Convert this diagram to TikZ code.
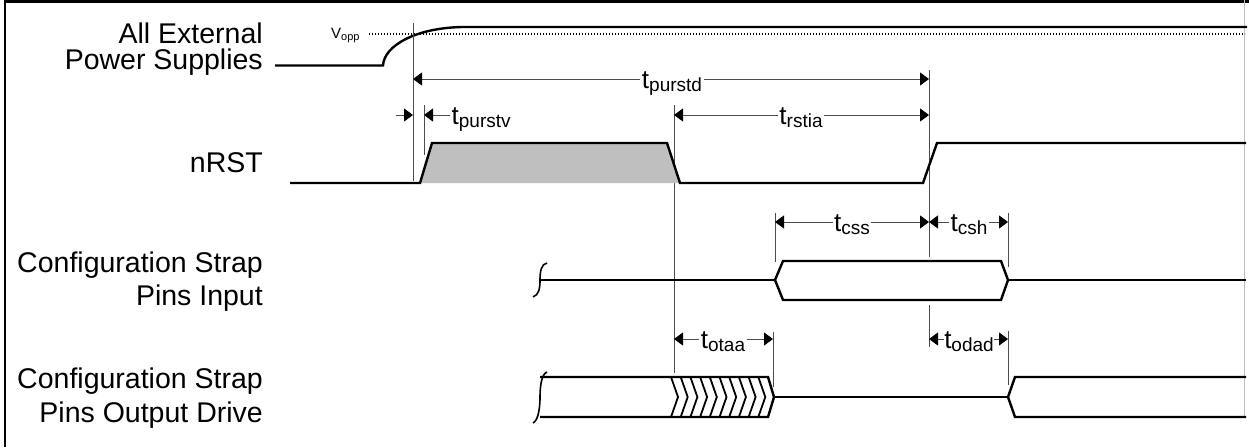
\documentclass[tikz,border=0pt]{standalone}
\usepackage{fontspec}
\setmainfont{Liberation Sans}
\usetikzlibrary{arrows.meta}
\newcommand\tsub[1]{t\raisebox{-3pt}{\fontsize{19}{19}\selectfont #1}}
\begin{document}
\begin{tikzpicture}[x=1pt,y=-1pt,
  sig/.style={line width=2.4pt, line join=miter},
  thin sig/.style={line width=1.6pt},
  refl/.style={line width=0.9pt, draw=black!70},
  tip/.tip={Triangle[length=9pt,width=13pt,color=black]},
  dimboth/.style={line width=0.9pt, draw=black!70, tip-tip},
  dimone/.style={line width=0.9pt, draw=black!70, -tip},
  tlab/.style={fill=white, inner sep=1.5pt, anchor=base, font=\fontsize{26}{26}\selectfont},
  rowlab/.style={anchor=base east, inner sep=0pt, font=\fontsize{28.5}{30}\selectfont}]
\useasboundingbox (0,0) rectangle (1249,447);
% frame
\draw[line width=3pt] (5,1.5) -- (1249,1.5);
\draw[line width=2.5pt] (5,0) -- (5,447);
\draw[line width=0.8pt, black!25] (1244,0) -- (1244,418);

% row labels
\node[rowlab] (l1a) at (263,43) {All External};
\node[rowlab] (l1b) at (263,69) {Power Supplies};
\node[rowlab] (l2) at (263,172) {nRST};
\node[rowlab] (l3a) at (263,272) {Configuration Strap};
\node[rowlab] (l3b) at (263,305) {Pins Input};
\node[rowlab] (l4a) at (263,388) {Configuration Strap};
\node[rowlab] (l4b) at (263,422) {Pins Output Drive};

% Vopp threshold
\draw[line width=1.2pt, dash pattern=on 1.2pt off 1.8pt] (369,34) -- (1245,34);
\node[anchor=base west, inner sep=0pt] (vopp) at (331,38)
  {\fontsize{15}{15}\selectfont V\raisebox{-2.5pt}{\fontsize{11}{11}\selectfont opp}};

% power supply
\draw[sig] (275,65.5) -- (383,65.5) .. controls (384,46) and (415,28) .. (462,27) -- (1247,27);

% reference lines
\draw[refl] (413,23) -- (413,181);
\draw[refl] (424,105) -- (424,155);
\draw[refl] (674,105) -- (674,373);
\draw[refl] (929,70) -- (929,257);
\draw[refl] (929,305) -- (929,347);
\draw[refl] (775,213) -- (775,262);
\draw[refl] (1008,213) -- (1008,267);
\draw[refl] (1008,331) -- (1008,385);
\draw[refl] (773,332) -- (773,387);

% nRST
\fill[black!25] (420,183) -- (432,143) -- (667,143) -- (680,183) -- cycle;
\draw[sig] (290,183) -- (420,183) -- (432,143) -- (667,143) -- (680,183) -- (923,183) -- (937,143) -- (1246,143);

% config strap input
\draw[thin sig] (533,297) .. controls (539,295) and (540,288) .. (540,280) .. controls (540,272) and (541,264) .. (547,263);
\draw[sig] (540,280) -- (775,280);
\draw[sig] (775,280) -- (783,261) -- (1001,261) -- (1008,280) -- (1001,300) -- (783,300) -- cycle;
\draw[sig] (1008,280) -- (1246,280);

% config strap output drive
\draw[thin sig] (533,423) .. controls (539,420) and (540,405) .. (540,397) .. controls (540,389) and (541,374) .. (547,372);
\draw[sig] (540,377) -- (768,377) -- (774,397) -- (768,417) -- (540,417);
\foreach \i in {0,...,9} {
  \draw[line width=1.8pt] ({671+9.7*\i},377) -- ({678+9.7*\i},397) -- ({671+9.7*\i},417);
}
\draw[sig] (774,397) -- (1008,397);
\draw[sig] (1246,377) -- (1015,377) -- (1008,397) -- (1015,417) -- (1246,417);

% timing dimensions
\draw[dimboth] (413,79) -- (929,79);
\node[tlab] (purstd) at (672,88) {\tsub{purstd}};

\draw[dimone] (396,115) -- (413,115);
\node[tlab, anchor=base west] (purstv) at (450,124) {\tsub{purstv}};
\draw[dimone] (purstv.west |- 0,115) -- (424,115);

\draw[dimboth] (674,115) -- (929,115);
\node[tlab] (rstia) at (801,124) {\tsub{rstia}};

\draw[dimboth] (775,222) -- (929,222);
\node[tlab] (css) at (852,231) {\tsub{css}};
\draw[dimboth] (929,222) -- (1008,222);
\node[tlab] (csh) at (969,231) {\tsub{csh}};

\draw[dimboth] (674,339) -- (773,339);
\node[tlab] (otaa) at (723,348) {\tsub{otaa}};
\draw[dimboth] (929,339) -- (1008,339);
\node[tlab, inner sep=0.5pt] (odad) at (969,348) {\tsub{odad}};
\end{tikzpicture}
\end{document}
